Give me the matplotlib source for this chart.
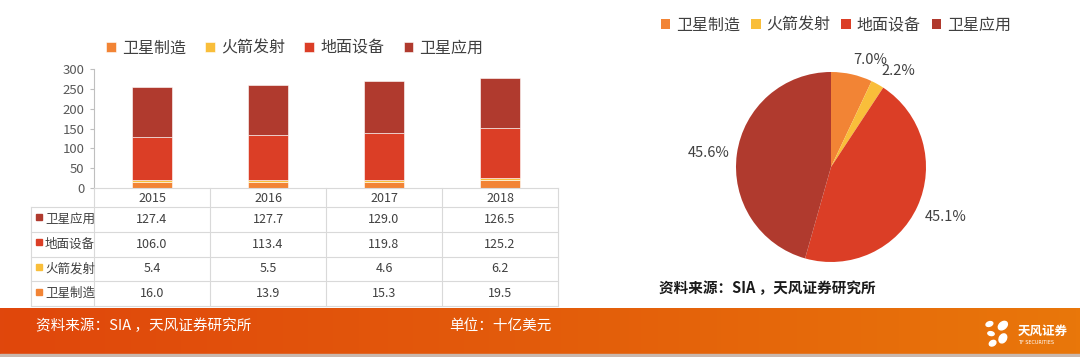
import numpy as np
import matplotlib
matplotlib.use('Agg')
import matplotlib.pyplot as plt
from matplotlib.patches import Rectangle, Ellipse
from matplotlib.colors import LinearSegmentedColormap

plt.rcParams['font.family'] = ['Noto Sans CJK SC', 'DejaVu Sans']

# data
years = ['2015', '2016', '2017', '2018']
series = ['卫星制造', '火箭发射', '地面设备', '卫星应用']
sat_make = [16.0, 13.9, 15.3, 19.5]
launch = [5.4, 5.5, 4.6, 6.2]
ground = [106.0, 113.4, 119.8, 125.2]
sat_app = [127.4, 127.7, 129.0, 126.5]
pie_vals = [19.5, 6.2, 125.2, 126.5]   # 2018
colors = ['#F28435', '#F9BE3A', '#DB3E26', '#B03A2E']
src_text = '资料来源：SIA ，天风证券研究所'
unit_text = '单位：十亿美元'

W, H = 1080, 357
fig = plt.figure(figsize=(W / 100, H / 100), dpi=100)
fig.patch.set_facecolor('white')

def box(x0, y0, x1, y1):
    # pixel box (top-left origin) -> figure fraction
    return [x0 / W, 1 - y1 / H, (x1 - x0) / W, (y1 - y0) / H]

txt = '#404040'
grid = '#D9D9D9'

# ---- stacked bars
ax = fig.add_axes(box(94, 69, 558, 188))
x = np.arange(len(years))
bottom = np.zeros(len(years))
handles = []
for vals, c, name in zip([sat_make, launch, ground, sat_app], colors, series):
    b = ax.bar(x, vals, 0.34, bottom=bottom, color=c, edgecolor='white', linewidth=0.4, label=name)
    handles.append(b)
    bottom += np.array(vals)
ax.set_xlim(-0.5, 3.5)
ax.set_ylim(0, 300)
ax.set_yticks(range(0, 301, 50))
ax.set_xticks([])
for s in ['top', 'right']:
    ax.spines[s].set_visible(False)
ax.spines['left'].set_color('#BFBFBF')
ax.spines['bottom'].set_color(grid)
ax.tick_params(axis='y', length=3, color='#BFBFBF', labelsize=9.5, labelcolor='#595959', pad=4)
ax.legend(handles=handles, ncol=4, loc='center', bbox_to_anchor=(0.433, 1.176), frameon=False,
          fontsize=11.5, handlelength=0.6, handleheight=0.6, handletextpad=0.4,
          columnspacing=1.2, labelcolor='#404040')

# ---- table under bars
tab = fig.add_axes(box(31, 188, 558, 306))
left = -0.5 - 63 / 116
tab.set_xlim(left, 3.5)
tab.set_ylim(118, 0)
tab.axis('off')
row_h = 24.75
head_h = 19
for k in range(5):
    xx = k - 0.5
    tab.plot([xx, xx], [0, 118], color=grid, lw=0.8, clip_on=False)
tab.plot([left, left], [head_h, 118], color=grid, lw=0.8, clip_on=False)
for r in range(5):
    yy = head_h + r * row_h
    tab.plot([left, 3.5], [yy, yy], color=grid, lw=0.8, clip_on=False)
for i, yr in enumerate(years):
    tab.text(i, head_h / 2 + 1, yr, ha='center', va='center', fontsize=9, color=txt)
rows = [('卫星应用', sat_app, colors[3]), ('地面设备', ground, colors[2]),
        ('火箭发射', launch, colors[1]), ('卫星制造', sat_make, colors[0])]
for r, (name, vals, c) in enumerate(rows):
    yc = head_h + (r + 0.5) * row_h
    tab.add_patch(Rectangle((left + 5 / 116, yc - 5), 6 / 116, 6, color=c, clip_on=False))
    tab.text(left + 14 / 116, yc, name, ha='left', va='center', fontsize=9, color=txt)
    for i, v in enumerate(vals):
        tab.text(i, yc, f'{v:.1f}', ha='center', va='center', fontsize=9, color=txt)

# ---- pie
pax = fig.add_axes(box(831 - 95, 167 - 95, 831 + 95, 167 + 95))
wedges, _ = pax.pie(pie_vals, colors=colors, startangle=90, counterclock=False,
                    wedgeprops=dict(linewidth=0))
pax.set_xlim(-1, 1)
pax.set_ylim(-1, 1)
pax.set_aspect('equal')
total = sum(pie_vals)
for w, v in zip(wedges, pie_vals):
    ang = np.deg2rad((w.theta1 + w.theta2) / 2)
    cx, cy = np.cos(ang), np.sin(ang)
    ha = 'left' if cx > 0.1 else ('right' if cx < -0.1 else 'center')
    va = 'bottom' if cy > 0.3 else ('top' if cy < -0.3 else 'center')
    pax.text(1.08 * cx, 1.08 * cy, f'{v / total * 100:.1f}%', ha=ha, va=va,
             fontsize=10.5, color=txt, clip_on=False)
pax.legend(wedges, series, ncol=4, loc='center', bbox_to_anchor=(0.525, 1.245), frameon=False,
           fontsize=11.5, handlelength=0.6, handleheight=0.6, handletextpad=0.35,
           columnspacing=0.7, labelcolor='#404040')

fig.text(659 / W, 1 - 288 / H, src_text, fontsize=10.5, color='#1A1A1A', weight='bold',
         ha='left', va='center')

# ---- bottom band
band = fig.add_axes(box(0, 308, 1080, 354))
cmap = LinearSegmentedColormap.from_list('band', ['#E0470C', '#E35C0B', '#E9770A'])
band.imshow(np.linspace(0, 1, 256).reshape(1, -1), aspect='auto', cmap=cmap, extent=[0, 1, 0, 1])
band.axis('off')
fig.patches.append(Rectangle((0, 0), 1, 3 / H, transform=fig.transFigure, color='#C9B8AE'))
fig.text(36 / W, 1 - 326 / H, src_text, fontsize=10.5, color='white', ha='left', va='center')
fig.text(449 / W, 1 - 326 / H, unit_text, fontsize=10.5, color='white', ha='left', va='center')

# logo
lax = fig.add_axes(box(983, 316, 1015, 348))
lax.set_xlim(0, 1)
lax.set_ylim(0, 1)
lax.axis('off')
for (ex, ey, ew, eh, ea) in [(0.2, 0.75, 0.22, 0.14, 20), (0.25, 0.45, 0.2, 0.12, -10),
                             (0.3, 0.15, 0.22, 0.16, 30), (0.62, 0.7, 0.32, 0.22, 40),
                             (0.62, 0.3, 0.22, 0.3, -30)]:
    lax.add_patch(Ellipse((ex, ey), ew, eh, angle=ea, color='white'))
fig.text(1018 / W, 1 - 331 / H, '天风证券', fontsize=9, color='white', weight='bold',
         ha='left', va='center')
fig.text(1018 / W, 1 - 342 / H, 'TF SECURITIES', fontsize=3.5, color='white',
         ha='left', va='center', family='DejaVu Sans')

fig.savefig('out.png', dpi=100)
